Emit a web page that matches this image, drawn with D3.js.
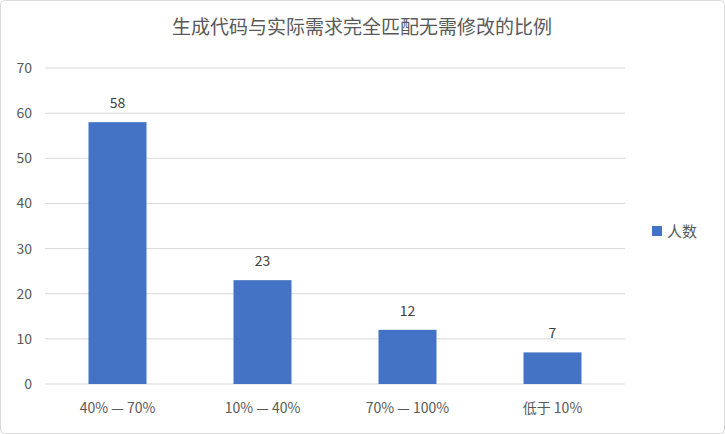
<!DOCTYPE html>
<html><head><meta charset="utf-8">
<script src="https://cdn.jsdelivr.net/npm/d3@7"></script>
<style>body{margin:0;background:#fff}</style></head>
<body><svg id="c" width="725" height="434"></svg>
<script>
const categories = ["40% — 70%", "10% — 40%", "70% — 100%", "低于 10%"];
const values = [58, 23, 12, 7];
const yTicks = [0, 10, 20, 30, 40, 50, 60, 70];
const title = "生成代码与实际需求完全匹配无需修改的比例";
const seriesName = "人数";

const svg = d3.select("#c");
const font = "'Noto Sans CJK SC', 'Noto Sans', sans-serif";
svg.append("rect").attr("x",0.5).attr("y",0.5).attr("width",724).attr("height",433)
  .attr("rx",4).attr("fill","#fff").attr("stroke","#d9d9d9");
const L=45, R=625, T=68, B=384;
const x = d3.scaleBand().domain(categories).range([L,R]).paddingInner(0.6).paddingOuter(0.3);
const y = d3.scaleLinear().domain([0,70]).range([B,T]);
const g = svg.append("g");
g.selectAll("line.grid").data(yTicks).join("line")
  .attr("x1",L).attr("x2",R).attr("y1",d=>y(d)).attr("y2",d=>y(d))
  .attr("stroke","#d9d9d9").attr("stroke-width",1);
g.selectAll("text.yt").data(yTicks).join("text")
  .attr("x",32).attr("y",d=>y(d)+5).attr("text-anchor","end")
  .attr("font-family",font).attr("font-size",14).attr("fill","#595959").text(d=>d);
g.selectAll("rect.bar").data(values).join("rect")
  .attr("x",(d,i)=>x(categories[i])).attr("width",x.bandwidth())
  .attr("y",d=>y(d)).attr("height",d=>B-y(d)).attr("fill","#4472c4");
g.selectAll("text.lbl").data(values).join("text")
  .attr("x",(d,i)=>x(categories[i])+x.bandwidth()/2).attr("y",d=>y(d)-14)
  .attr("text-anchor","middle").attr("font-family",font).attr("font-size",14)
  .attr("fill","#404040").text(d=>d);
g.selectAll("text.xt").data(categories).join("text")
  .attr("x",d=>x(d)+x.bandwidth()/2).attr("y",413).attr("text-anchor","middle")
  .attr("font-family",font).attr("font-size",14).attr("fill","#595959").text(d=>d);
svg.append("text").attr("x",362).attr("y",34).attr("text-anchor","middle")
  .attr("font-family",font).attr("font-size",19).attr("fill","#595959").text(title);
svg.append("rect").attr("x",652).attr("y",226).attr("width",10).attr("height",10).attr("fill","#4472c4");
svg.append("text").attr("x",667).attr("y",237).attr("font-family",font).attr("font-size",15)
  .attr("fill","#595959").text(seriesName);
</script></body></html>
